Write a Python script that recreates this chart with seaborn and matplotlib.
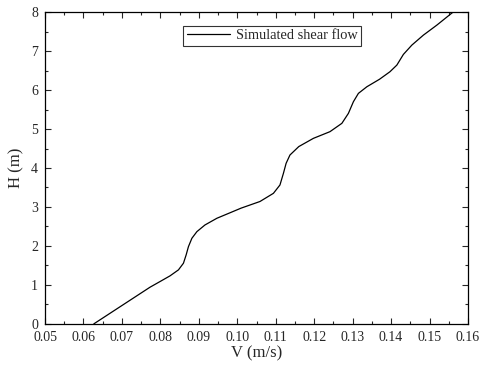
import numpy as np
import pandas as pd
import seaborn as sns
import matplotlib
matplotlib.use("Agg")
import matplotlib.pyplot as plt
from matplotlib.ticker import MultipleLocator

# -------------------------------
# Data
# -------------------------------
velocity = [0.0627, 0.0773, 0.0799, 0.0825, 0.0847, 0.0860, 0.0867, 0.0873,
            0.0882, 0.0895, 0.0916, 0.0947, 0.0981, 0.1010, 0.1059, 0.1094,
            0.1111, 0.1120, 0.1127, 0.1137, 0.1160, 0.1198, 0.1241, 0.1272,
            0.1289, 0.1302, 0.1315, 0.1337, 0.1370, 0.1397, 0.1415, 0.1432,
            0.1454, 0.1484, 0.1519, 0.1560]
height = [0.000, 0.940, 1.085, 1.231, 1.385, 1.556, 1.769, 1.982,
          2.197, 2.367, 2.538, 2.710, 2.850, 2.970, 3.140, 3.350,
          3.564, 3.863, 4.120, 4.333, 4.550, 4.761, 4.932, 5.146,
          5.402, 5.701, 5.915, 6.085, 6.278, 6.470, 6.641, 6.915,
          7.154, 7.410, 7.667, 7.992]

df = pd.DataFrame({"V": velocity, "H": height})

# -------------------------------
# Style
# -------------------------------
sns.set_style("ticks")
plt.rcParams["font.family"] = ["Liberation Serif", "DejaVu Serif"]

fig = plt.figure(figsize=(4.79, 3.68), dpi=100)
ax = fig.add_axes([0.094, 0.12, 0.883, 0.847])

sns.lineplot(data=df, x="V", y="H", color="black", linewidth=0.9,
             estimator=None, sort=False, label="Simulated shear flow", ax=ax)
for ln in ax.get_lines():
    ln.set_solid_joinstyle("round")

ax.set_xlim(0.05, 0.16)
ax.set_ylim(0, 8)
ax.xaxis.set_major_locator(MultipleLocator(0.01))
ax.xaxis.set_minor_locator(MultipleLocator(0.005))
ax.yaxis.set_major_locator(MultipleLocator(1))
ax.yaxis.set_minor_locator(MultipleLocator(0.5))
ax.set_xticklabels([f"{t:.2f}" for t in ax.get_xticks()])

ax.tick_params(which="both", direction="in", top=True, right=True,
               labelsize=10, width=0.8)
ax.tick_params(which="major", length=4)
ax.tick_params(which="minor", length=2.5)
ax.tick_params(axis="x", pad=5)
ax.tick_params(axis="y", pad=5)
for s in ax.spines.values():
    s.set_linewidth(0.9)
    s.set_color("black")

ax.set_xlabel("V (m/s)", fontsize=12, labelpad=1)
ax.set_ylabel("H (m)", fontsize=12, labelpad=5)

leg = ax.legend(loc="upper left", bbox_to_anchor=(0.326, 0.957), fontsize=10.4,
                frameon=True, fancybox=False, handlelength=3.0,
                borderpad=0.25, handletextpad=0.4, borderaxespad=0)
leg.get_frame().set_edgecolor("black")
leg.get_frame().set_linewidth(0.8)

fig.savefig("out.png", dpi=100)
